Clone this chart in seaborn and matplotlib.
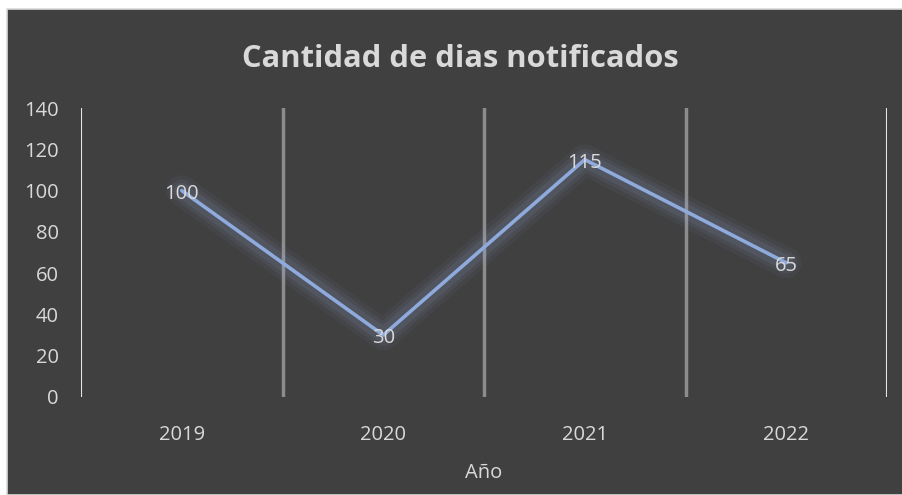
import matplotlib
matplotlib.use("Agg")
import matplotlib.pyplot as plt
import seaborn as sns
import pandas as pd
from matplotlib.patches import Rectangle

years = ["2019", "2020", "2021", "2022"]
dias = [100, 30, 115, 65]
yticks = [0, 20, 40, 60, 80, 100, 120, 140]

df = pd.DataFrame({"Año": years, "Dias": dias})

sns.set_theme(style="dark")
plt.rcParams['font.family'] = ['Open Sans', 'DejaVu Sans']

BG = "#404040"
TXT = "#d9d9d9"
LINE = "#8faadc"
FS = 14.5

fig = plt.figure(figsize=(9.03, 4.95), dpi=100)
fig.patch.set_facecolor("white")
bgrect = Rectangle((7/903, 0), 1 - 7/903, 1 - 9/495, transform=fig.transFigure,
                   facecolor=BG, edgecolor="#d9d9d9", linewidth=1.2, zorder=-10)
fig.patches.append(bgrect)

ax = fig.add_axes([81/903, 1 - 397/495, (887-81)/903, (397-108)/495])
ax.set_facecolor(BG)
ax.patch.set_alpha(0)

x = list(range(len(years)))
# glow
for lw, a in [(22, 0.05), (16, 0.07), (11, 0.09)]:
    ax.plot(x, dias, color="#9fb3e3", linewidth=lw, alpha=a, solid_capstyle="round",
            solid_joinstyle="round", zorder=2)
sns.lineplot(data=df, x="Año", y="Dias", ax=ax, color=LINE, linewidth=2.6, zorder=3,
             sort=False)

ax.set_xlim(-0.5, len(years) - 0.5)
ax.set_ylim(0, 140)
ax.set_yticks(yticks)
ax.set_yticklabels([str(v) for v in yticks])
ax.set_xticks(x)
ax.set_xticklabels(years)

for i in range(len(years) + 1):
    xb = i - 0.5
    edge = (i == 0 or i == len(years))
    ax.axvline(xb, color="#e6e6e6" if edge else "#8c8c8c", linewidth=1.5 if edge else 2.5,
               zorder=1)

for xi, v in zip(x, dias):
    ax.text(xi, v - 1.5, str(v), ha="center", va="center", color=TXT, fontsize=FS, zorder=4)

for s in ax.spines.values():
    s.set_visible(False)
ax.grid(False)
ax.tick_params(axis="both", length=0, colors=TXT, labelsize=FS)
ax.tick_params(axis="y", pad=16)
ax.tick_params(axis="x", pad=20)
ax.set_xlabel("Año", color=TXT, fontsize=FS, labelpad=13)
ax.set_ylabel("")

fig.text(460/903, 1 - 59/495, "Cantidad de dias notificados", ha="center", va="center",
         color=TXT, fontsize=22.2, fontweight="bold")

fig.savefig("out.png", dpi=100)
